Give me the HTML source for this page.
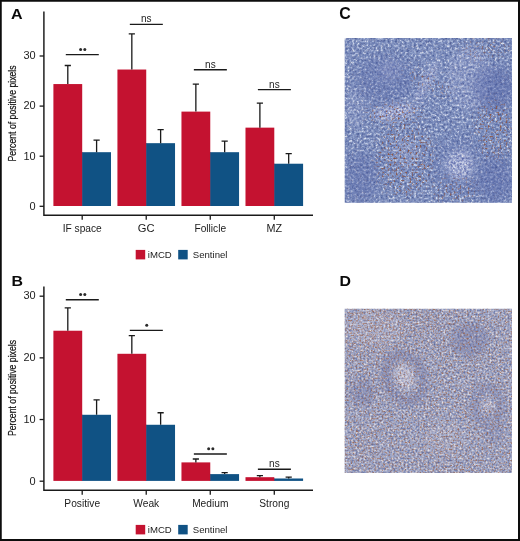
<!DOCTYPE html>
<html><head><meta charset="utf-8"><style>
html,body{margin:0;padding:0;background:#fff;}
svg{display:block;font-family:"Liberation Sans", sans-serif;will-change:transform;}
</style></head><body>
<svg width="520" height="541" viewBox="0 0 520 541">
<rect x="0" y="0" width="520" height="541" fill="#fff"/>

<text transform="translate(11.0 18.9) scale(1.05 1)" font-size="15.3" font-weight="bold" fill="#0a0a0a">A</text>
<text transform="translate(11.6 285.9) scale(1.04 1)" font-size="15.3" font-weight="bold" fill="#0a0a0a">B</text>
<text transform="translate(339.3 19.0) scale(1.04 1.04)" font-size="15.3" font-weight="bold" fill="#0a0a0a">C</text>
<text transform="translate(339.5 286.4) scale(1.04 1)" font-size="15.3" font-weight="bold" fill="#0a0a0a">D</text>

<path d="M43.9 11.6 V215.3 H313" fill="none" stroke="#1a1a1a" stroke-width="1.45"/>
<line x1="39.6" y1="206.30" x2="43.9" y2="206.30" stroke="#1a1a1a" stroke-width="1.3"/>
<text transform="translate(35.7 209.60) scale(1.1 1.0)" text-anchor="end" font-size="10" fill="#1c1c1c">0</text>
<line x1="39.6" y1="156.20" x2="43.9" y2="156.20" stroke="#1a1a1a" stroke-width="1.3"/>
<text transform="translate(35.7 159.50) scale(1.1 1.0)" text-anchor="end" font-size="10" fill="#1c1c1c">10</text>
<line x1="39.6" y1="106.10" x2="43.9" y2="106.10" stroke="#1a1a1a" stroke-width="1.3"/>
<text transform="translate(35.7 109.40) scale(1.1 1.0)" text-anchor="end" font-size="10" fill="#1c1c1c">20</text>
<line x1="39.6" y1="56.00" x2="43.9" y2="56.00" stroke="#1a1a1a" stroke-width="1.3"/>
<text transform="translate(35.7 59.30) scale(1.1 1.0)" text-anchor="end" font-size="10" fill="#1c1c1c">30</text>
<rect x="53.40" y="84.06" width="28.8" height="121.94" fill="#C41230"/>
<rect x="81.70" y="152.19" width="1" height="53.81" fill="#C41230"/>
<path d="M67.80 84.06 V65.52 M64.70 65.52 H70.90" stroke="#1a1a1a" stroke-width="1.3" fill="none"/>
<rect x="82.20" y="152.19" width="28.8" height="53.81" fill="#105284"/>
<path d="M96.60 152.19 V140.17 M93.50 140.17 H99.70" stroke="#1a1a1a" stroke-width="1.3" fill="none"/>
<line x1="82.20" y1="215.3" x2="82.20" y2="219.8" stroke="#1a1a1a" stroke-width="1.3"/>
<text transform="translate(82.20 231.7) scale(1.02 1)" text-anchor="middle" font-size="10" fill="#1c1c1c">IF space</text>
<line x1="65.80" y1="54.60" x2="98.80" y2="54.60" stroke="#1a1a1a" stroke-width="1.4"/>
<circle cx="80.60" cy="49.40" r="1.5" fill="#2a2a2a"/>
<circle cx="84.80" cy="49.40" r="1.5" fill="#2a2a2a"/>
<rect x="117.43" y="69.53" width="28.8" height="136.47" fill="#C41230"/>
<rect x="145.73" y="143.17" width="1" height="62.83" fill="#C41230"/>
<path d="M131.83 69.53 V33.96 M128.73 33.96 H134.93" stroke="#1a1a1a" stroke-width="1.3" fill="none"/>
<rect x="146.23" y="143.17" width="28.8" height="62.83" fill="#105284"/>
<path d="M160.63 143.17 V129.65 M157.53 129.65 H163.73" stroke="#1a1a1a" stroke-width="1.3" fill="none"/>
<line x1="146.23" y1="215.3" x2="146.23" y2="219.8" stroke="#1a1a1a" stroke-width="1.3"/>
<text transform="translate(146.23 231.7) scale(1.12 1)" text-anchor="middle" font-size="10" fill="#1c1c1c">GC</text>
<line x1="129.83" y1="24.40" x2="162.83" y2="24.40" stroke="#1a1a1a" stroke-width="1.4"/>
<text x="146.33" y="22.30" text-anchor="middle" font-size="10" fill="#1c1c1c">ns</text>
<rect x="181.46" y="111.61" width="28.8" height="94.39" fill="#C41230"/>
<rect x="209.76" y="152.19" width="1" height="53.81" fill="#C41230"/>
<path d="M195.86 111.61 V84.06 M192.76 84.06 H198.96" stroke="#1a1a1a" stroke-width="1.3" fill="none"/>
<rect x="210.26" y="152.19" width="28.8" height="53.81" fill="#105284"/>
<path d="M224.66 152.19 V141.17 M221.56 141.17 H227.76" stroke="#1a1a1a" stroke-width="1.3" fill="none"/>
<line x1="210.26" y1="215.3" x2="210.26" y2="219.8" stroke="#1a1a1a" stroke-width="1.3"/>
<text transform="translate(210.26 231.7) scale(1.02 1)" text-anchor="middle" font-size="10" fill="#1c1c1c">Follicle</text>
<line x1="193.86" y1="69.80" x2="226.86" y2="69.80" stroke="#1a1a1a" stroke-width="1.4"/>
<text x="210.36" y="67.70" text-anchor="middle" font-size="10" fill="#1c1c1c">ns</text>
<rect x="245.49" y="127.64" width="28.8" height="78.36" fill="#C41230"/>
<rect x="273.79" y="163.72" width="1" height="42.29" fill="#C41230"/>
<path d="M259.89 127.64 V103.09 M256.79 103.09 H262.99" stroke="#1a1a1a" stroke-width="1.3" fill="none"/>
<rect x="274.29" y="163.72" width="28.8" height="42.29" fill="#105284"/>
<path d="M288.69 163.72 V153.70 M285.59 153.70 H291.79" stroke="#1a1a1a" stroke-width="1.3" fill="none"/>
<line x1="274.29" y1="215.3" x2="274.29" y2="219.8" stroke="#1a1a1a" stroke-width="1.3"/>
<text transform="translate(274.29 231.7) scale(1.08 1)" text-anchor="middle" font-size="10" fill="#1c1c1c">MZ</text>
<line x1="257.89" y1="89.60" x2="290.89" y2="89.60" stroke="#1a1a1a" stroke-width="1.4"/>
<text x="274.39" y="87.50" text-anchor="middle" font-size="10" fill="#1c1c1c">ns</text>
<text transform="translate(16.0 113.4) rotate(-90) scale(0.79 1)" text-anchor="middle" font-size="11" fill="#111" stroke="#111" stroke-width="0.2">Percent of positive pixels</text>
<rect x="135.7" y="249.90" width="9.5" height="9.5" fill="#C41230"/>
<text x="147.8" y="258.10" font-size="9.6" fill="#1c1c1c">iMCD</text>
<rect x="178.2" y="249.90" width="9.5" height="9.5" fill="#105284"/>
<text x="192.8" y="258.10" font-size="9.6" fill="#1c1c1c">Sentinel</text>
<path d="M43.9 286.6 V490.3 H313" fill="none" stroke="#1a1a1a" stroke-width="1.45"/>
<line x1="39.6" y1="481.20" x2="43.9" y2="481.20" stroke="#1a1a1a" stroke-width="1.3"/>
<text transform="translate(35.7 484.50) scale(1.1 1.0)" text-anchor="end" font-size="10" fill="#1c1c1c">0</text>
<line x1="39.6" y1="419.53" x2="43.9" y2="419.53" stroke="#1a1a1a" stroke-width="1.3"/>
<text transform="translate(35.7 422.83) scale(1.1 1.0)" text-anchor="end" font-size="10" fill="#1c1c1c">10</text>
<line x1="39.6" y1="357.86" x2="43.9" y2="357.86" stroke="#1a1a1a" stroke-width="1.3"/>
<text transform="translate(35.7 361.16) scale(1.1 1.0)" text-anchor="end" font-size="10" fill="#1c1c1c">20</text>
<line x1="39.6" y1="296.19" x2="43.9" y2="296.19" stroke="#1a1a1a" stroke-width="1.3"/>
<text transform="translate(35.7 299.49) scale(1.1 1.0)" text-anchor="end" font-size="10" fill="#1c1c1c">30</text>
<rect x="53.40" y="330.73" width="28.8" height="150.17" fill="#C41230"/>
<rect x="81.70" y="414.78" width="1" height="66.12" fill="#C41230"/>
<path d="M67.80 330.73 V307.91 M64.70 307.91 H70.90" stroke="#1a1a1a" stroke-width="1.3" fill="none"/>
<rect x="82.20" y="414.78" width="28.8" height="66.12" fill="#105284"/>
<path d="M96.60 414.78 V399.80 M93.50 399.80 H99.70" stroke="#1a1a1a" stroke-width="1.3" fill="none"/>
<line x1="82.20" y1="490.3" x2="82.20" y2="494.8" stroke="#1a1a1a" stroke-width="1.3"/>
<text transform="translate(82.20 506.7) scale(1.02 1)" text-anchor="middle" font-size="10" fill="#1c1c1c">Positive</text>
<line x1="65.80" y1="299.80" x2="98.80" y2="299.80" stroke="#1a1a1a" stroke-width="1.4"/>
<circle cx="80.60" cy="294.60" r="1.5" fill="#2a2a2a"/>
<circle cx="84.80" cy="294.60" r="1.5" fill="#2a2a2a"/>
<rect x="117.43" y="353.79" width="28.8" height="127.11" fill="#C41230"/>
<rect x="145.73" y="424.77" width="1" height="56.13" fill="#C41230"/>
<path d="M131.83 353.79 V335.66 M128.73 335.66 H134.93" stroke="#1a1a1a" stroke-width="1.3" fill="none"/>
<rect x="146.23" y="424.77" width="28.8" height="56.13" fill="#105284"/>
<path d="M160.63 424.77 V412.75 M157.53 412.75 H163.73" stroke="#1a1a1a" stroke-width="1.3" fill="none"/>
<line x1="146.23" y1="490.3" x2="146.23" y2="494.8" stroke="#1a1a1a" stroke-width="1.3"/>
<text transform="translate(146.23 506.7) scale(1.02 1)" text-anchor="middle" font-size="10" fill="#1c1c1c">Weak</text>
<line x1="129.83" y1="330.40" x2="162.83" y2="330.40" stroke="#1a1a1a" stroke-width="1.4"/>
<circle cx="146.73" cy="325.20" r="1.5" fill="#2a2a2a"/>
<rect x="181.46" y="462.39" width="28.8" height="18.51" fill="#C41230"/>
<rect x="209.76" y="474.11" width="1" height="6.79" fill="#C41230"/>
<path d="M195.86 462.39 V459.00 M192.76 459.00 H198.96" stroke="#1a1a1a" stroke-width="1.3" fill="none"/>
<rect x="210.26" y="474.11" width="28.8" height="6.79" fill="#105284"/>
<path d="M224.66 474.11 V472.63 M221.56 472.63 H227.76" stroke="#1a1a1a" stroke-width="1.3" fill="none"/>
<line x1="210.26" y1="490.3" x2="210.26" y2="494.8" stroke="#1a1a1a" stroke-width="1.3"/>
<text transform="translate(210.26 506.7) scale(1.02 1)" text-anchor="middle" font-size="10" fill="#1c1c1c">Medium</text>
<line x1="193.86" y1="454.00" x2="226.86" y2="454.00" stroke="#1a1a1a" stroke-width="1.4"/>
<circle cx="208.66" cy="448.80" r="1.5" fill="#2a2a2a"/>
<circle cx="212.86" cy="448.80" r="1.5" fill="#2a2a2a"/>
<rect x="245.49" y="477.19" width="28.8" height="3.71" fill="#C41230"/>
<rect x="273.79" y="478.49" width="1" height="2.41" fill="#C41230"/>
<path d="M259.89 477.19 V475.53 M256.79 475.53 H262.99" stroke="#1a1a1a" stroke-width="1.3" fill="none"/>
<rect x="274.29" y="478.49" width="28.8" height="2.41" fill="#105284"/>
<path d="M288.69 478.49 V477.19 M285.59 477.19 H291.79" stroke="#1a1a1a" stroke-width="1.3" fill="none"/>
<line x1="274.29" y1="490.3" x2="274.29" y2="494.8" stroke="#1a1a1a" stroke-width="1.3"/>
<text transform="translate(274.29 506.7) scale(1.02 1)" text-anchor="middle" font-size="10" fill="#1c1c1c">Strong</text>
<line x1="257.89" y1="469.30" x2="290.89" y2="469.30" stroke="#1a1a1a" stroke-width="1.4"/>
<text x="274.39" y="467.20" text-anchor="middle" font-size="10" fill="#1c1c1c">ns</text>
<text transform="translate(16.0 388.0) rotate(-90) scale(0.79 1)" text-anchor="middle" font-size="11" fill="#111" stroke="#111" stroke-width="0.2">Percent of positive pixels</text>
<rect x="135.7" y="524.90" width="9.5" height="9.5" fill="#C41230"/>
<text x="147.8" y="533.10" font-size="9.6" fill="#1c1c1c">iMCD</text>
<rect x="178.2" y="524.90" width="9.5" height="9.5" fill="#105284"/>
<text x="192.8" y="533.10" font-size="9.6" fill="#1c1c1c">Sentinel</text>
<defs><clipPath id="clipC"><rect x="344.7" y="38.0" width="167.3" height="164.7"/></clipPath>
<filter id="fC_0" x="344.7" y="38.0" width="167.3" height="164.7" filterUnits="userSpaceOnUse" color-interpolation-filters="sRGB"><feTurbulence type="fractalNoise" baseFrequency="0.42" numOctaves="3" seed="5"/><feColorMatrix type="matrix" values="1.55 0 0 0 -0.275 1.55 0 0 0 -0.275 1.55 0 0 0 -0.275 0 0 0 0 1"/><feComponentTransfer><feFuncR type="table" tableValues="0.298 0.361 0.416 0.463 0.518 0.612 0.745 0.878"/><feFuncG type="table" tableValues="0.369 0.431 0.486 0.533 0.584 0.671 0.784 0.898"/><feFuncB type="table" tableValues="0.596 0.651 0.690 0.725 0.761 0.816 0.886 0.941"/></feComponentTransfer><feGaussianBlur stdDeviation="0.6"/></filter>
<filter id="fC_1" x="344.7" y="38.0" width="167.3" height="164.7" filterUnits="userSpaceOnUse" color-interpolation-filters="sRGB"><feTurbulence type="fractalNoise" baseFrequency="0.45" numOctaves="3" seed="8"/><feColorMatrix type="matrix" values="1.5 0 0 0 -0.250 1.5 0 0 0 -0.250 1.5 0 0 0 -0.250 0 0 0 0 1"/><feComponentTransfer><feFuncR type="table" tableValues="0.357 0.435 0.522 0.627 0.737 0.847 0.941"/><feFuncG type="table" tableValues="0.412 0.486 0.569 0.667 0.765 0.863 0.945"/><feFuncB type="table" tableValues="0.659 0.714 0.769 0.824 0.878 0.925 0.973"/></feComponentTransfer><feGaussianBlur stdDeviation="0.6"/></filter>
<filter id="fC_2" x="344.7" y="38.0" width="167.3" height="164.7" filterUnits="userSpaceOnUse" color-interpolation-filters="sRGB"><feTurbulence type="fractalNoise" baseFrequency="0.42" numOctaves="3" seed="9"/><feColorMatrix type="matrix" values="1.4 0 0 0 -0.200 1.4 0 0 0 -0.200 1.4 0 0 0 -0.200 0 0 0 0 1"/><feComponentTransfer><feFuncR type="table" tableValues="0.227 0.275 0.322 0.361 0.408 0.494 0.620"/><feFuncG type="table" tableValues="0.290 0.341 0.384 0.424 0.471 0.549 0.663"/><feFuncB type="table" tableValues="0.557 0.604 0.643 0.675 0.706 0.761 0.824"/></feComponentTransfer><feGaussianBlur stdDeviation="0.6"/></filter>
<filter id="fC_3" x="344.7" y="38.0" width="167.3" height="164.7" filterUnits="userSpaceOnUse" color-interpolation-filters="sRGB"><feTurbulence type="fractalNoise" baseFrequency="0.5" numOctaves="2" seed="21"/><feColorMatrix type="matrix" values="0 0 0 0 0.541 0 0 0 0 0.322 0 0 0 0 0.251 0 0 5.0 0 -2.800"/><feGaussianBlur stdDeviation="0.3"/></filter>
<filter id="mbClight" x="-100%" y="-100%" width="300%" height="300%"><feGaussianBlur stdDeviation="3"/></filter>
<mask id="mClight" maskUnits="userSpaceOnUse" x="344.7" y="38.0" width="167.3" height="164.7"><rect x="344.7" y="38.0" width="167.3" height="164.7" fill="rgb(20,20,20)"/><g filter="url(#mbClight)">
<ellipse cx="389.7" cy="71.0" rx="11" ry="10" fill="rgb(150,150,150)"/>
<ellipse cx="459.7" cy="165.0" rx="14" ry="15" fill="rgb(235,235,235)"/>
<ellipse cx="394.7" cy="112.0" rx="22" ry="7" fill="rgb(255,255,255)" transform="rotate(-10 394.7 112.0)"/>
<ellipse cx="426.7" cy="82.0" rx="25" ry="4" fill="rgb(220,220,220)" transform="rotate(-62 426.7 82.0)"/>
<ellipse cx="469.7" cy="78.0" rx="22" ry="32" fill="rgb(110,110,110)"/>
<ellipse cx="404.7" cy="153.0" rx="14" ry="14" fill="rgb(90,90,90)"/>
<ellipse cx="354.7" cy="108.0" rx="10" ry="20" fill="rgb(80,80,80)"/>
</g></mask>
<filter id="mbCdark" x="-100%" y="-100%" width="300%" height="300%"><feGaussianBlur stdDeviation="6"/></filter>
<mask id="mCdark" maskUnits="userSpaceOnUse" x="344.7" y="38.0" width="167.3" height="164.7"><rect x="344.7" y="38.0" width="167.3" height="164.7" fill="rgb(0,0,0)"/><g filter="url(#mbCdark)">
<ellipse cx="494.7" cy="88.0" rx="20" ry="22" fill="rgb(150,150,150)"/>
<ellipse cx="360.7" cy="178.0" rx="18" ry="26" fill="rgb(110,110,110)"/>
<ellipse cx="494.7" cy="180.0" rx="20" ry="24" fill="rgb(130,130,130)"/>
<ellipse cx="384.7" cy="80.0" rx="30" ry="24" fill="rgb(90,90,90)"/>
<ellipse cx="459.7" cy="165.0" rx="22" ry="23" fill="none" stroke="rgb(100,100,100)" stroke-width="8"/>
</g></mask>
<filter id="mbCbr" x="-100%" y="-100%" width="300%" height="300%"><feGaussianBlur stdDeviation="4"/></filter>
<mask id="mCbr" maskUnits="userSpaceOnUse" x="344.7" y="38.0" width="167.3" height="164.7"><rect x="344.7" y="38.0" width="167.3" height="164.7" fill="rgb(25,25,25)"/><g filter="url(#mbCbr)">
<ellipse cx="394.7" cy="114.0" rx="28" ry="9" fill="rgb(255,255,255)"/>
<ellipse cx="404.7" cy="160.0" rx="28" ry="36" fill="rgb(240,240,240)"/>
<ellipse cx="494.7" cy="130.0" rx="18" ry="30" fill="rgb(230,230,230)"/>
<ellipse cx="428.7" cy="82.0" rx="5" ry="26" fill="rgb(240,240,240)" transform="rotate(-62 428.7 82.0)"/>
<ellipse cx="454.7" cy="190.0" rx="22" ry="12" fill="rgb(180,180,180)"/>
<ellipse cx="484.7" cy="48.0" rx="25" ry="10" fill="rgb(140,140,140)"/>
</g></mask>
</defs>
<g clip-path="url(#clipC)">
<g><rect x="344.7" y="38.0" width="167.3" height="164.7" filter="url(#fC_0)"/></g>
<g mask="url(#mClight)"><rect x="344.7" y="38.0" width="167.3" height="164.7" filter="url(#fC_1)"/></g>
<g mask="url(#mCdark)"><rect x="344.7" y="38.0" width="167.3" height="164.7" filter="url(#fC_2)"/></g>
<g mask="url(#mCbr)"><rect x="344.7" y="38.0" width="167.3" height="164.7" filter="url(#fC_3)"/></g>
</g>
<defs><clipPath id="clipD"><rect x="344.7" y="308.8" width="167.3" height="164.2"/></clipPath>
<filter id="fD_0" x="344.7" y="308.8" width="167.3" height="164.2" filterUnits="userSpaceOnUse" color-interpolation-filters="sRGB"><feTurbulence type="fractalNoise" baseFrequency="0.5" numOctaves="3" seed="6"/><feColorMatrix type="matrix" values="1.6 0 0 0 -0.300 1.6 0 0 0 -0.300 1.6 0 0 0 -0.300 0 0 0 0 1"/><feComponentTransfer><feFuncR type="table" tableValues="0.384 0.463 0.541 0.627 0.714 0.816 0.918"/><feFuncG type="table" tableValues="0.439 0.510 0.588 0.659 0.737 0.816 0.902"/><feFuncB type="table" tableValues="0.627 0.690 0.745 0.784 0.831 0.871 0.902"/></feComponentTransfer><feGaussianBlur stdDeviation="0.55"/></filter>
<filter id="fD_1" x="344.7" y="308.8" width="167.3" height="164.2" filterUnits="userSpaceOnUse" color-interpolation-filters="sRGB"><feTurbulence type="fractalNoise" baseFrequency="0.5" numOctaves="3" seed="16"/><feColorMatrix type="matrix" values="1.5 0 0 0 -0.250 1.5 0 0 0 -0.250 1.5 0 0 0 -0.250 0 0 0 0 1"/><feComponentTransfer><feFuncR type="table" tableValues="0.290 0.353 0.416 0.478 0.557 0.667 0.784"/><feFuncG type="table" tableValues="0.333 0.396 0.455 0.518 0.588 0.690 0.792"/><feFuncB type="table" tableValues="0.565 0.620 0.659 0.698 0.745 0.808 0.863"/></feComponentTransfer><feGaussianBlur stdDeviation="0.55"/></filter>
<filter id="fD_2" x="344.7" y="308.8" width="167.3" height="164.2" filterUnits="userSpaceOnUse" color-interpolation-filters="sRGB"><feTurbulence type="fractalNoise" baseFrequency="0.5" numOctaves="3" seed="17"/><feColorMatrix type="matrix" values="1.5 0 0 0 -0.250 1.5 0 0 0 -0.250 1.5 0 0 0 -0.250 0 0 0 0 1"/><feComponentTransfer><feFuncR type="table" tableValues="0.541 0.627 0.722 0.816 0.894 0.949 0.984"/><feFuncG type="table" tableValues="0.565 0.651 0.737 0.816 0.886 0.933 0.973"/><feFuncB type="table" tableValues="0.737 0.792 0.847 0.886 0.918 0.933 0.973"/></feComponentTransfer><feGaussianBlur stdDeviation="0.55"/></filter>
<filter id="fD_3" x="344.7" y="308.8" width="167.3" height="164.2" filterUnits="userSpaceOnUse" color-interpolation-filters="sRGB"><feTurbulence type="fractalNoise" baseFrequency="0.55" numOctaves="2" seed="22"/><feColorMatrix type="matrix" values="0 0 0 0 0.588 0 0 0 0 0.376 0 0 0 0 0.286 0 0 4.0 0 -2.200"/><feGaussianBlur stdDeviation="0.35"/></filter>
<filter id="fD_4" x="344.7" y="308.8" width="167.3" height="164.2" filterUnits="userSpaceOnUse" color-interpolation-filters="sRGB"><feTurbulence type="fractalNoise" baseFrequency="0.65" numOctaves="2" seed="29"/><feColorMatrix type="matrix" values="0 0 0 0 0.690 0 0 0 0 0.525 0 0 0 0 0.463 0 4.0 0 0 -2.280"/><feGaussianBlur stdDeviation="0.35"/></filter>
<filter id="fD_5" x="344.7" y="308.8" width="167.3" height="164.2" filterUnits="userSpaceOnUse" color-interpolation-filters="sRGB"><feTurbulence type="fractalNoise" baseFrequency="0.6" numOctaves="2" seed="33"/><feColorMatrix type="matrix" values="0 0 0 0 0.659 0 0 0 0 0.455 0 0 0 0 0.384 4.0 0 0 0 -2.200"/><feGaussianBlur stdDeviation="0.35"/></filter>
<filter id="mbDdark" x="-100%" y="-100%" width="300%" height="300%"><feGaussianBlur stdDeviation="3"/></filter>
<mask id="mDdark" maskUnits="userSpaceOnUse" x="344.7" y="308.8" width="167.3" height="164.2"><rect x="344.7" y="308.8" width="167.3" height="164.2" fill="rgb(0,0,0)"/><g filter="url(#mbDdark)">
<ellipse cx="404.7" cy="377.8" rx="18" ry="24" fill="none" stroke="rgb(160,160,160)" stroke-width="9" transform="rotate(-20 404.7 377.8)"/>
<ellipse cx="469.7" cy="339.8" rx="19" ry="17" fill="rgb(140,140,140)"/>
<ellipse cx="362.7" cy="392.8" rx="12" ry="14" fill="rgb(130,130,130)"/>
<ellipse cx="487.7" cy="405.8" rx="13" ry="18" fill="none" stroke="rgb(140,140,140)" stroke-width="8"/>
<ellipse cx="494.7" cy="428.8" rx="10" ry="15" fill="rgb(90,90,90)"/>
</g></mask>
<filter id="mbDlight" x="-100%" y="-100%" width="300%" height="300%"><feGaussianBlur stdDeviation="3"/></filter>
<mask id="mDlight" maskUnits="userSpaceOnUse" x="344.7" y="308.8" width="167.3" height="164.2"><rect x="344.7" y="308.8" width="167.3" height="164.2" fill="rgb(0,0,0)"/><g filter="url(#mbDlight)">
<ellipse cx="404.7" cy="376.8" rx="9" ry="13" fill="rgb(170,170,170)" transform="rotate(-20 404.7 376.8)"/>
<ellipse cx="487.7" cy="404.8" rx="5" ry="6" fill="rgb(170,170,170)"/>
<ellipse cx="374.7" cy="328.8" rx="30" ry="18" fill="rgb(60,60,60)"/>
<ellipse cx="444.7" cy="438.8" rx="20" ry="15" fill="rgb(50,50,50)"/>
</g></mask>
<filter id="mbDwarm" x="-100%" y="-100%" width="300%" height="300%"><feGaussianBlur stdDeviation="10"/></filter>
<mask id="mDwarm" maskUnits="userSpaceOnUse" x="344.7" y="308.8" width="167.3" height="164.2"><rect x="344.7" y="308.8" width="167.3" height="164.2" fill="rgb(60,60,60)"/><g filter="url(#mbDwarm)">
<ellipse cx="374.7" cy="333.8" rx="35" ry="30" fill="rgb(255,255,255)"/>
<ellipse cx="434.7" cy="323.8" rx="30" ry="15" fill="rgb(200,200,200)"/>
<ellipse cx="364.7" cy="448.8" rx="25" ry="25" fill="rgb(160,160,160)"/>
<ellipse cx="444.7" cy="458.8" rx="30" ry="15" fill="rgb(140,140,140)"/>
</g></mask>
</defs>
<g clip-path="url(#clipD)">
<g><rect x="344.7" y="308.8" width="167.3" height="164.2" filter="url(#fD_0)"/></g>
<g mask="url(#mDdark)"><rect x="344.7" y="308.8" width="167.3" height="164.2" filter="url(#fD_1)"/></g>
<g mask="url(#mDlight)"><rect x="344.7" y="308.8" width="167.3" height="164.2" filter="url(#fD_2)"/></g>
<g opacity="0.8"><rect x="344.7" y="308.8" width="167.3" height="164.2" filter="url(#fD_3)"/></g>
<g opacity="0.55"><rect x="344.7" y="308.8" width="167.3" height="164.2" filter="url(#fD_4)"/></g>
<g mask="url(#mDwarm)" opacity="0.8"><rect x="344.7" y="308.8" width="167.3" height="164.2" filter="url(#fD_5)"/></g>
</g>
<path d="M0 0H520V541H0Z M1.75 1.75V539H518V1.75Z" fill="#0d0d0d" fill-rule="evenodd"/>
</svg>
</body></html>
